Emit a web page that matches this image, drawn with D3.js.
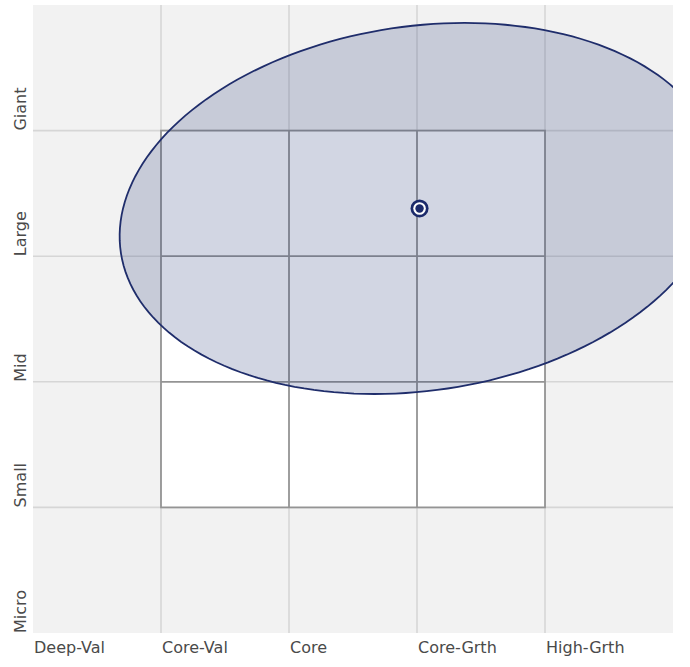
<!DOCTYPE html>
<html>
<head>
<meta charset="utf-8">
<script src="https://cdn.jsdelivr.net/npm/d3@7/dist/d3.min.js"></script>
<style>
  html, body { margin: 0; padding: 0; background: #ffffff; }
  svg { display: block; }
  text { font-family: "DejaVu Sans", Verdana, sans-serif; }
</style>
</head>
<body>
<div id="chart"></div>
<script>
// ---- data ----
const styleLabels = ["Deep-Val", "Core-Val", "Core", "Core-Grth", "High-Grth"];
const sizeLabels = ["Micro", "Small", "Mid", "Large", "Giant"];
const gridValues = [1, 2, 3, 4];
const boxRange = [1, 4];                 // the 3x3 style box (Core-Val..Core-Grth, Small..Large)
const centroid = [3.02, 3.38];           // style, size
const zoneCenter = [3.02, 3.38];
const zoneAxes = [2.36, 1.45];           // semi-axes in grid units
const zoneAngle = 8.7;                   // degrees

// ---- layout ----
const W = 690, H = 667;
const x = d3.scaleLinear().domain([0, 5]).range([33, 673]);
const y = d3.scaleLinear().domain([0, 5]).range([633, 5]);

const svg = d3.select("#chart").append("svg").attr("width", W).attr("height", H);

svg.append("defs").append("clipPath").attr("id", "plotClip")
  .append("rect")
  .attr("x", x(0)).attr("y", y(5))
  .attr("width", x(5) - x(0)).attr("height", y(0) - y(5));

// background
svg.append("rect")
  .attr("x", x(0)).attr("y", y(5))
  .attr("width", x(5) - x(0)).attr("height", y(0) - y(5))
  .attr("fill", "#f2f2f2");

// outer grid
const grid = svg.append("g").attr("stroke", "#d6d6d6").attr("stroke-width", 1.6);
grid.selectAll("line.v").data(gridValues).join("line").attr("class", "v")
  .attr("x1", d => x(d)).attr("x2", d => x(d))
  .attr("y1", y(5)).attr("y2", y(0));
grid.selectAll("line.h").data(gridValues).join("line").attr("class", "h")
  .attr("y1", d => y(d)).attr("y2", d => y(d))
  .attr("x1", x(0)).attr("x2", x(5));

// inner style box
svg.append("rect")
  .attr("x", x(boxRange[0])).attr("y", y(boxRange[1]))
  .attr("width", x(boxRange[1]) - x(boxRange[0]))
  .attr("height", y(boxRange[0]) - y(boxRange[1]))
  .attr("fill", "#ffffff").attr("stroke", "#949494").attr("stroke-width", 1.8);
const inner = d3.range(boxRange[0] + 1, boxRange[1]);
const ig = svg.append("g").attr("stroke", "#949494").attr("stroke-width", 1.8);
ig.selectAll("line.v").data(inner).join("line").attr("class", "v")
  .attr("x1", d => x(d)).attr("x2", d => x(d))
  .attr("y1", y(boxRange[1])).attr("y2", y(boxRange[0]));
ig.selectAll("line.h").data(inner).join("line").attr("class", "h")
  .attr("y1", d => y(d)).attr("y2", d => y(d))
  .attr("x1", x(boxRange[0])).attr("x2", x(boxRange[1]));

// ownership zone ellipse
const phi = zoneAngle * Math.PI / 180;
const pts = d3.range(0, 361, 2).map(deg => {
  const t = deg * Math.PI / 180;
  const u = zoneAxes[0] * Math.cos(t), v = zoneAxes[1] * Math.sin(t);
  return [zoneCenter[0] + u * Math.cos(phi) - v * Math.sin(phi),
          zoneCenter[1] + u * Math.sin(phi) + v * Math.cos(phi)];
});
const line = d3.line().x(d => x(d[0])).y(d => y(d[1])).curve(d3.curveLinearClosed);
svg.append("path")
  .attr("clip-path", "url(#plotClip)")
  .attr("d", line(pts))
  .attr("fill", "#1f3071").attr("fill-opacity", 0.2)
  .attr("stroke", "#1f2d6b").attr("stroke-width", 1.8);

// centroid
const cg = svg.append("g").attr("transform", `translate(${x(centroid[0])},${y(centroid[1])})`);
cg.append("circle").attr("r", 9).attr("fill", "#1b2a6b");
cg.append("circle").attr("r", 6.3).attr("fill", "#ffffff");
cg.append("circle").attr("r", 4.2).attr("fill", "#1b2a6b");

// x labels
svg.append("g").selectAll("text").data(styleLabels).join("text")
  .attr("x", (d, i) => x(i) + 1).attr("y", 653)
  .attr("font-size", 16).attr("fill", "#4a4a4a")
  .text(d => d);

// y labels
svg.append("g").selectAll("text").data(sizeLabels).join("text")
  .attr("transform", (d, i) => `translate(26,${y(i)}) rotate(-90)`)
  .attr("font-size", 16).attr("fill", "#4a4a4a")
  .text(d => d);
</script>
</body>
</html>
